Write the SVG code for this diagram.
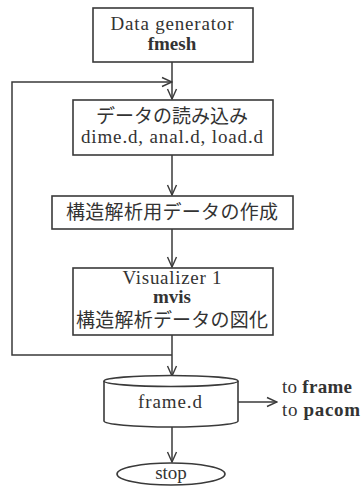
<svg xmlns="http://www.w3.org/2000/svg" width="363" height="487" viewBox="0 0 363 487">
<defs>
<marker id="ah" markerWidth="12" markerHeight="12" refX="11" refY="6" orient="auto" markerUnits="userSpaceOnUse">
<path d="M1,1.5 L11,6 L1,10.5" fill="none" stroke="#3a3a3a" stroke-width="1.4"/>
</marker>
</defs>
<style>
.box{fill:#fff;stroke:#3a3a3a;stroke-width:1.6}
.ln{fill:none;stroke:#3a3a3a;stroke-width:1.5}
.ser{font-family:"Liberation Serif","DejaVu Serif",serif;fill:#333;text-anchor:middle;font-size:19px}
.b{font-weight:bold}
.jp{font-family:"Noto Sans CJK JP",sans-serif;fill:#333;text-anchor:middle;font-size:19px}
</style>
<rect width="363" height="487" fill="#fff"/>
<g id="connectors">
<line class="ln" x1="172" y1="62" x2="172" y2="99" marker-end="url(#ah)"/>
<polyline class="ln" points="172,355 12,355 12,82 172,82" marker-end="url(#ah)"/>
<line class="ln" x1="172" y1="155" x2="172" y2="195" marker-end="url(#ah)"/>
<line class="ln" x1="172" y1="229" x2="172" y2="267" marker-end="url(#ah)"/>
<line class="ln" x1="172" y1="335" x2="172" y2="376" marker-end="url(#ah)"/>
<line class="ln" x1="238" y1="402" x2="277" y2="402" marker-end="url(#ah)"/>
<line class="ln" x1="172" y1="427" x2="172" y2="462" marker-end="url(#ah)"/>
</g>
<g id="n1">
<rect class="box" x="93" y="8" width="160" height="54"/>
<text class="ser" x="172" y="30" textLength="123">Data generator</text>
<text class="ser b" x="172" y="50">fmesh</text>
</g>
<g id="n2">
<rect class="box" x="73" y="100" width="200" height="55"/>
<text class="jp" x="172" y="123" textLength="152">データの読み込み</text>
<text class="ser" x="172" y="143" font-size="20" textLength="182">dime.d, anal.d, load.d</text>
</g>
<g id="n3">
<rect class="box" x="52" y="196" width="241" height="33"/>
<text class="jp" x="172" y="219" textLength="212">構造解析用データの作成</text>
</g>
<g id="n4">
<rect class="box" x="73" y="268" width="200" height="67"/>
<text class="ser" x="172" y="284" font-size="18" textLength="99">Visualizer 1</text>
<text class="ser b" x="172" y="303" font-size="17">mvis</text>
<text class="jp" x="172" y="327" textLength="192">構造解析データの図化</text>
</g>
<g id="n5">
<path class="box" d="M104,381 L104,421 A67,6 0 0 0 238,421 L238,381"/>
<ellipse class="box" cx="171" cy="381" rx="67" ry="5.5"/>
<text class="ser" x="170" y="408" textLength="64">frame.d</text>
</g>
<g id="n6">
<text class="ser" x="282" y="393" style="text-anchor:start" font-size="18" textLength="70">to <tspan class="b">frame</tspan></text>
<text class="ser" x="282" y="416" style="text-anchor:start" font-size="18" textLength="78">to <tspan class="b">pacom</tspan></text>
</g>
<g id="n7">
<ellipse class="box" cx="171" cy="474" rx="54" ry="11"/>
<text class="ser" x="171" y="479">stop</text>
</g>
</svg>
